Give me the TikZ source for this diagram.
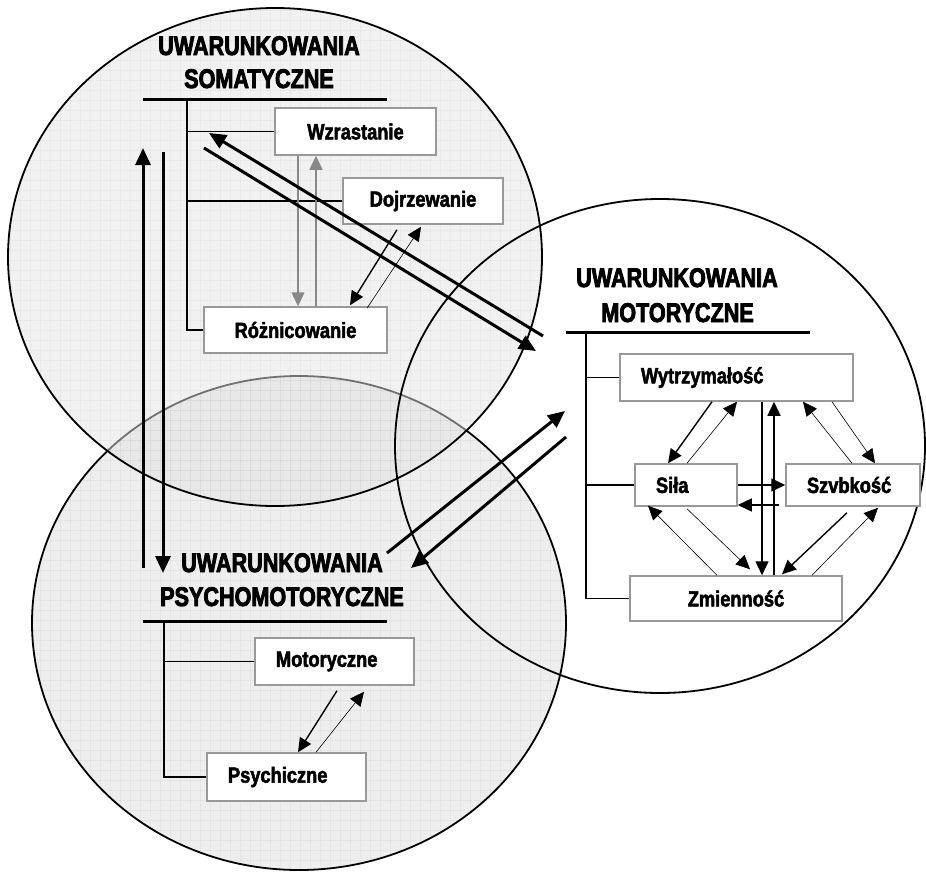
\documentclass[tikz,border=0pt]{standalone}
\usepackage{fontspec}
\setmainfont{Liberation Sans}
\newfontfamily\headfont[FakeStretch=0.8,FakeBold=3]{Liberation Sans Bold}
\newfontfamily\boxfont[FakeStretch=0.83,FakeBold=2.2]{Liberation Sans Bold}
\usetikzlibrary{arrows.meta,calc}

\definecolor{somfill}{HTML}{E4E4E4}
\definecolor{psyfill}{HTML}{EEEEEE}
\definecolor{frame}{HTML}{999999}
\definecolor{link}{HTML}{888888}

\tikzset{
  heading/.style={font=\headfont\fontsize{27}{30}\selectfont, inner sep=0pt, anchor=base},
  box/.style={draw=frame, line width=1.5pt, fill=white, inner ysep=0pt,
              font=\boxfont\fontsize{22}{25}\selectfont},
  cbox/.style={box, inner xsep=0pt, align=center},
  lbox/.style={box, inner xsep=21pt, align=left},
  rule/.style={line width=3pt},
  branch/.style={line width=1.3pt},
  tip/.style={-{Triangle[length=14pt,width=13pt]}},
  medium/.style={tip, line width=1.4pt},
  thin/.style={tip, line width=0.6pt},
  greyline/.style={tip, line width=1.4pt, draw=link},
  heavy/.style={-{Triangle[length=17pt,width=15pt]}, line width=3pt},
  ring/.style={line width=1.8pt},
  texture/.style={draw=black, draw opacity=0.035, line width=0.8pt},
}

\begin{document}
\begin{tikzpicture}[x=1pt,y=-1pt]
\useasboundingbox (0,0) rectangle (926,873);

% the three areas
\path[fill=psyfill] (299,623) ellipse [x radius=267, y radius=247];
\begin{scope}
  \clip (299,623) ellipse [x radius=267, y radius=247];
  \foreach \gx in {0,10,...,600} {\draw[texture] (\gx,370) -- (\gx,873);}
  \foreach \gy in {370,380,...,873} {\draw[texture] (0,\gy) -- (600,\gy);}
\end{scope}
\draw[ring] (299,623) ellipse [x radius=267, y radius=247];

\path[fill=somfill, fill opacity=0.5] (275,257) ellipse [x radius=267, y radius=249];
\begin{scope}
  \clip (275,257) ellipse [x radius=267, y radius=249];
  \foreach \gx in {0,10,...,550} {\draw[texture] (\gx,0) -- (\gx,510);}
  \foreach \gy in {0,10,...,510} {\draw[texture] (0,\gy) -- (550,\gy);}
\end{scope}
\draw[ring] (275,257) ellipse [x radius=267, y radius=249];

\draw[ring] (660,446) ellipse [x radius=265, y radius=247];

% headings
\node[heading] (som1) at (259,55) {UWARUNKOWANIA};
\node[heading] (som2) at (259,88) {SOMATYCZNE};
\node[heading] (mot1) at (677,287) {UWARUNKOWANIA};
\node[heading] (mot2) at (677.5,322) {MOTORYCZNE};
\node[heading] (psy1) at (282,572) {UWARUNKOWANIA};
\node[heading] (psy2) at (282,606) {PSYCHOMOTORYCZNE};

% somatic factors
\node[cbox, minimum width=161pt, minimum height=47pt] (wz) at (355.5,131.5) {Wzrastanie};
\node[cbox, minimum width=160pt, minimum height=46pt] (dj) at (423,201) {Dojrzewanie};
\node[cbox, minimum width=183pt, minimum height=46pt] (rz) at (295.5,330) {Różnicowanie};

% motor factors
\node[lbox, text width=191pt, minimum height=47pt] (wy) at (736.5,377.5) {Wytrzymałość};
\node[lbox, text width=60pt, minimum height=42pt] (si) at (686,485) {Siła};
\node[lbox, text width=92pt, minimum height=42pt] (sz) at (853,485) {Szvbkość};
\node[cbox, minimum width=212pt, minimum height=45pt] (zm) at (736,598.5) {Zmienność};

% psychomotor factors
\node[lbox, text width=117pt, minimum height=47pt] (mo) at (334.5,661.5) {Motoryczne};
\node[lbox, text width=117pt, minimum height=48pt] (ps) at (286.5,777) {Psychiczne};

% rules under the headings and their branches
\coordinate (somL) at (143,99);  \coordinate (somR) at (387,99);  \coordinate (somT) at (187,99);
\coordinate (motL) at (566,332); \coordinate (motR) at (810,332); \coordinate (motT) at (586,332);
\coordinate (psyL) at (143,621); \coordinate (psyR) at (387,621); \coordinate (psyT) at (164,621);
\draw[rule] (somL) -- (somR);
\draw[rule] (motL) -- (motR);
\draw[rule] (psyL) -- (psyR);

\draw[branch] (somT) |- (rz.west);
\draw[branch] (wz.west) -- (wz.west -| somT);
\draw[branch] (dj.west) -- (dj.west -| somT);

\draw[branch] (motT) |- (zm.west);
\draw[branch] (wy.west) -- (wy.west -| motT);
\draw[branch] (si.west) -- (si.west -| motT);

\draw[branch] (psyT) |- (ps.west);
\draw[branch] (mo.west) -- (mo.west -| psyT);

% links inside the somatic area
\draw[greyline] ($(wz.south)+(-57.5,0)$) -- ($(rz.north)+(2.5,0)$);
\draw[greyline] ($(rz.north)+(20.5,0)$) -- ($(wz.south)+(-39.5,0)$);
\draw[medium] ($(dj.south)+(-26,5)$) -- ($(rz.north)+(54.5,-1)$);
\draw[thin] ($(rz.north)+(71.5,2)$) -- ($(dj.south)+(-2,2)$);

% links inside the motor area
\draw[medium] ($(wy.south)+(-24.5,0)$) -- ($(si.north)+(-18,0)$);
\draw[thin] ($(si.north)+(1,0)$) -- ($(wy.south)+(0.5,0)$);
\draw[medium] ($(wy.south)+(25.5,0)$) -- ($(zm.north)+(26,0)$);
\draw[medium] ($(zm.north)+(38,0)$) -- ($(wy.south)+(37.5,0)$);
\draw[thin] ($(wy.south)+(95.5,0)$) -- ($(sz.north)+(22,0)$);
\draw[thin] ($(sz.north)+(-1,0)$) -- ($(wy.south)+(66.5,0)$);
\draw[medium] (si.east) -- (sz.west);
\draw[medium] ($(sz.west)+(-6,20)$) -- ($(si.east)+(0,20)$);
\draw[thin] ($(si.south)+(1,2)$) -- ($(zm.north)+(14,-6)$);
\draw[thin] ($(zm.north)+(-19,0)$) -- ($(si.south)+(-38,-1)$);
\draw[medium] ($(sz.south)+(-6,6)$) -- ($(zm.north)+(46,-1)$);
\draw[thin] ($(zm.north)+(76,0)$) -- ($(sz.south)+(25,1)$);

% links inside the psychomotor area
\draw[medium] ($(mo.south)+(2.5,5)$) -- ($(ps.north)+(11.5,0)$);
\draw[thin] ($(ps.north)+(29.5,0)$) -- ($(mo.south)+(29.5,6)$);

% heavy links between the areas
\coordinate (a1) at (543,336); \coordinate (a2) at (209,133);
\coordinate (b1) at (204,148); \coordinate (b2) at (536,351);
\coordinate (c1) at (143,568); \coordinate (c2) at (143,148);
\coordinate (d1) at (163,152); \coordinate (d2) at (163,573);
\coordinate (e1) at (387,553); \coordinate (e2) at (565,411);
\coordinate (f1) at (566,437); \coordinate (f2) at (411,568);
\draw[heavy] (a1) -- (a2);
\draw[heavy] (b1) -- (b2);
\draw[heavy] (c1) -- (c2);
\draw[heavy] (d1) -- (d2);
\draw[heavy] (e1) -- (e2);
\draw[heavy] (f1) -- (f2);
\end{tikzpicture}
\end{document}
